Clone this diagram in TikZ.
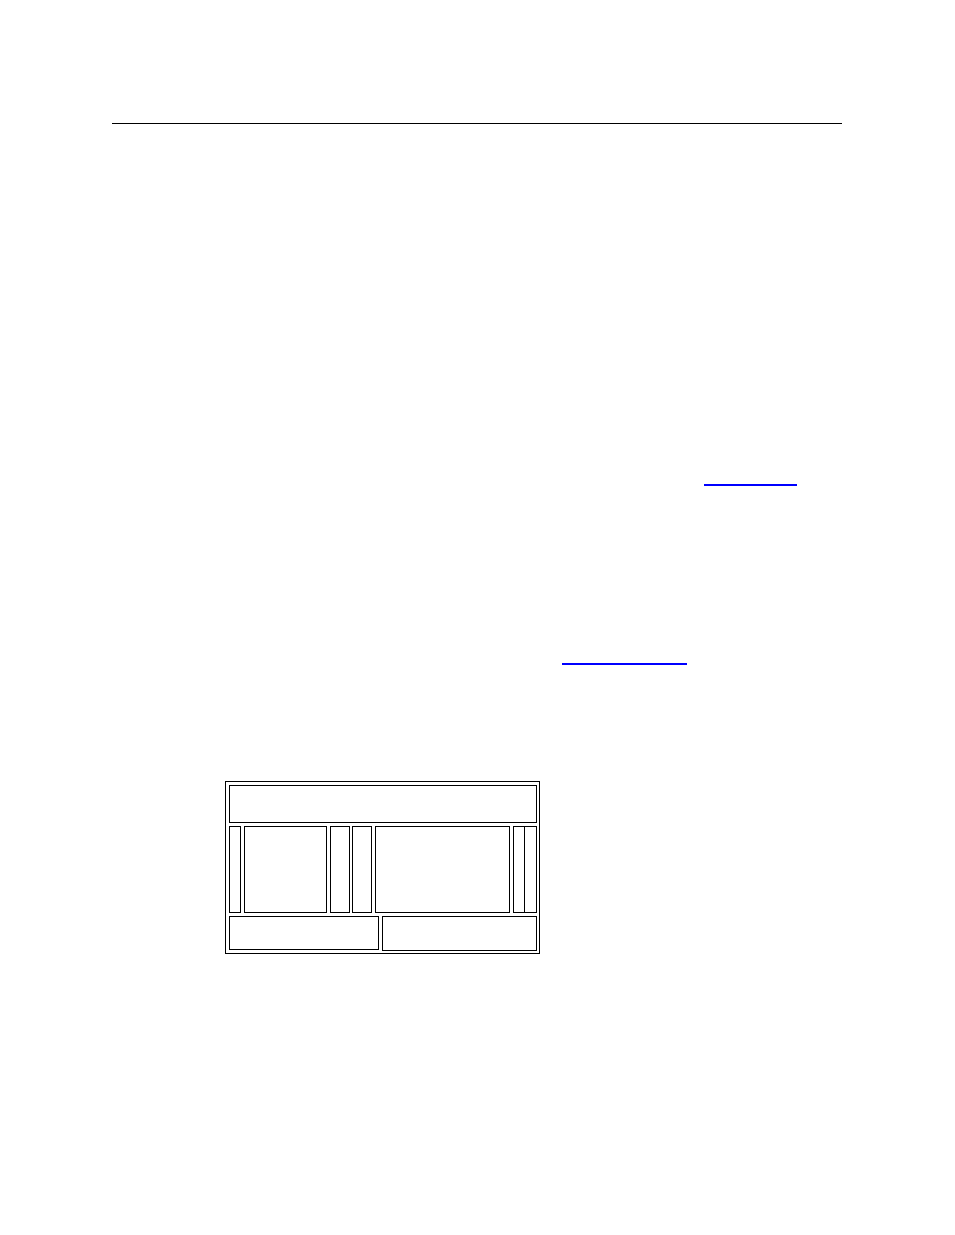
\documentclass[tikz,border=0pt]{standalone}
\begin{document}
\begin{tikzpicture}[x=0.75pt,y=-0.75pt,
  pane/.style={draw=black,line width=0.82pt},
  rule/.style={draw=black,line width=0.82pt},
  link/.style={draw=blue,line width=1.05pt}]
\useasboundingbox (0,0) rectangle (954,1235);
% top rule
\draw[rule] (112,123.5) -- (842,123.5);
% link underlines
\draw[link] (704,485) -- (797,485);
\draw[link] (562,664) -- (687,664);
% layout diagram
\draw[pane] (225.5,781.5) rectangle (539.5,953.5);
\draw[pane] (229.5,785.5) rectangle (536.5,822.5);
\draw[pane] (229.5,826.5) rectangle (240.5,912.5);
\draw[pane] (244.5,826.5) rectangle (326.5,912.5);
\draw[pane] (330.5,826.5) rectangle (349.5,912.5);
\draw[pane] (352.5,826.5) rectangle (371.5,912.5);
\draw[pane] (375.5,826.5) rectangle (509.5,912.5);
\draw[pane] (513.5,826.5) rectangle (524.5,912.5);
\draw[pane] (524.5,826.5) rectangle (536.5,912.5);
\draw[pane] (229.5,916.5) rectangle (378.5,949.5);
\draw[pane] (382.5,916.5) rectangle (536.5,950.5);
\end{tikzpicture}
\end{document}
